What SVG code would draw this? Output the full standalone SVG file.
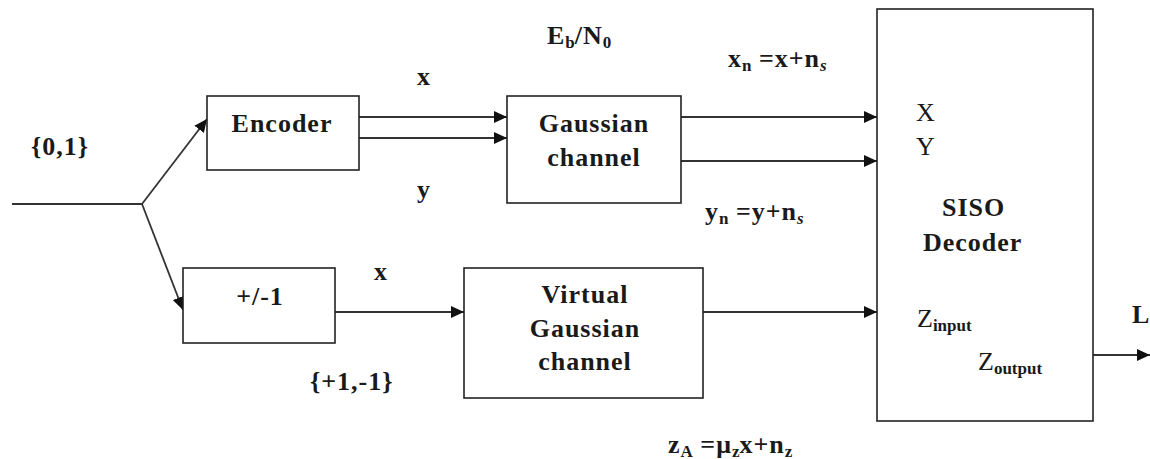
<svg xmlns="http://www.w3.org/2000/svg" width="1150" height="459" viewBox="0 0 1150 459">
<defs>
<marker id="arr" markerWidth="13" markerHeight="12" refX="13" refY="6" orient="auto" markerUnits="userSpaceOnUse">
<path d="M0,0 L13,6 L0,12 Z" fill="#111"/>
</marker>
<style>
.box{fill:#fff;stroke:#222;stroke-width:1.6}
.ln{fill:none;stroke:#333;stroke-width:1.8}
text{font-family:'Liberation Serif','Times New Roman',serif;font-size:26px;fill:#1a1a1a}
.b{font-weight:bold;letter-spacing:1px}
.n{font-weight:normal}
.c{text-anchor:middle}
.sub{font-size:17px;font-weight:bold;letter-spacing:0}
.subi{font-size:17px;font-weight:bold;font-style:italic}
</style>
</defs>
<rect width="1150" height="459" fill="#fff"/>
<g id="connectors">
<path class="ln" d="M12,204 H142"/>
<path class="ln" d="M142,204 L207,119" marker-end="url(#arr)"/>
<path class="ln" d="M142,204 L183,310" marker-end="url(#arr)"/>
<path class="ln" d="M359,117 H507" marker-end="url(#arr)"/>
<path class="ln" d="M359,138 H507" marker-end="url(#arr)"/>
<path class="ln" d="M681,117 H877" marker-end="url(#arr)"/>
<path class="ln" d="M681,161 H877" marker-end="url(#arr)"/>
<path class="ln" d="M335,312 H464" marker-end="url(#arr)"/>
<path class="ln" d="M703,312 H877" marker-end="url(#arr)"/>
<path class="ln" d="M1093,355 H1150" marker-end="url(#arr)"/>
</g>
<g id="encoder">
<rect class="box" x="207" y="96" width="152" height="74"/>
<text class="b c" x="282" y="132">Encoder</text>
</g>
<g id="gaussian">
<rect class="box" x="507" y="96" width="174" height="107"/>
<text class="b c" x="594" y="132">Gaussian</text>
<text class="b c" x="594" y="166">channel</text>
</g>
<g id="pm1">
<rect class="box" x="183" y="268" width="152" height="75"/>
<text class="b c" x="260" y="305">+/-1</text>
</g>
<g id="virtual">
<rect class="box" x="464" y="268" width="239" height="130"/>
<text class="b c" x="585" y="303">Virtual</text>
<text class="b c" x="585" y="337">Gaussian</text>
<text class="b c" x="585" y="370">channel</text>
</g>
<g id="siso">
<rect class="box" x="877" y="9" width="216" height="412"/>
<text class="n" x="916" y="121">X</text>
<text class="n" x="916" y="155">Y</text>
<text class="b" x="942" y="216">SISO</text>
<text class="b" x="923" y="251">Decoder</text>
<text class="n" x="917" y="327">Z<tspan class="sub" dy="4">input</tspan></text>
<text class="n" x="978" y="370">Z<tspan class="sub" dy="4">output</tspan></text>
</g>
<g id="labels">
<text class="b" x="31" y="155">{0,1}</text>
<text class="b" x="547" y="44">E<tspan class="sub" dy="4">b</tspan><tspan dy="-4">/N</tspan><tspan class="sub" dy="4">0</tspan></text>
<text class="b" x="417" y="85">x</text>
<text class="b" x="417" y="198">y</text>
<text class="b" x="728" y="67">x<tspan class="sub" dy="4">n</tspan><tspan dy="-4"> =x+n</tspan><tspan class="subi" dy="4">s</tspan></text>
<text class="b" x="705" y="220">y<tspan class="sub" dy="4">n</tspan><tspan dy="-4"> =y+n</tspan><tspan class="subi" dy="4">s</tspan></text>
<text class="b c" x="381" y="280">x</text>
<text class="b" x="310" y="390">{+1,-1}</text>
<text class="b" x="668" y="453">z<tspan class="sub" dy="4">A</tspan><tspan dy="-4"> =μ</tspan><tspan class="sub" dy="4">z</tspan><tspan dy="-4">x+n</tspan><tspan class="sub" dy="4">z</tspan></text>
<text class="b" x="1132" y="323">L</text>
</g>
</svg>
